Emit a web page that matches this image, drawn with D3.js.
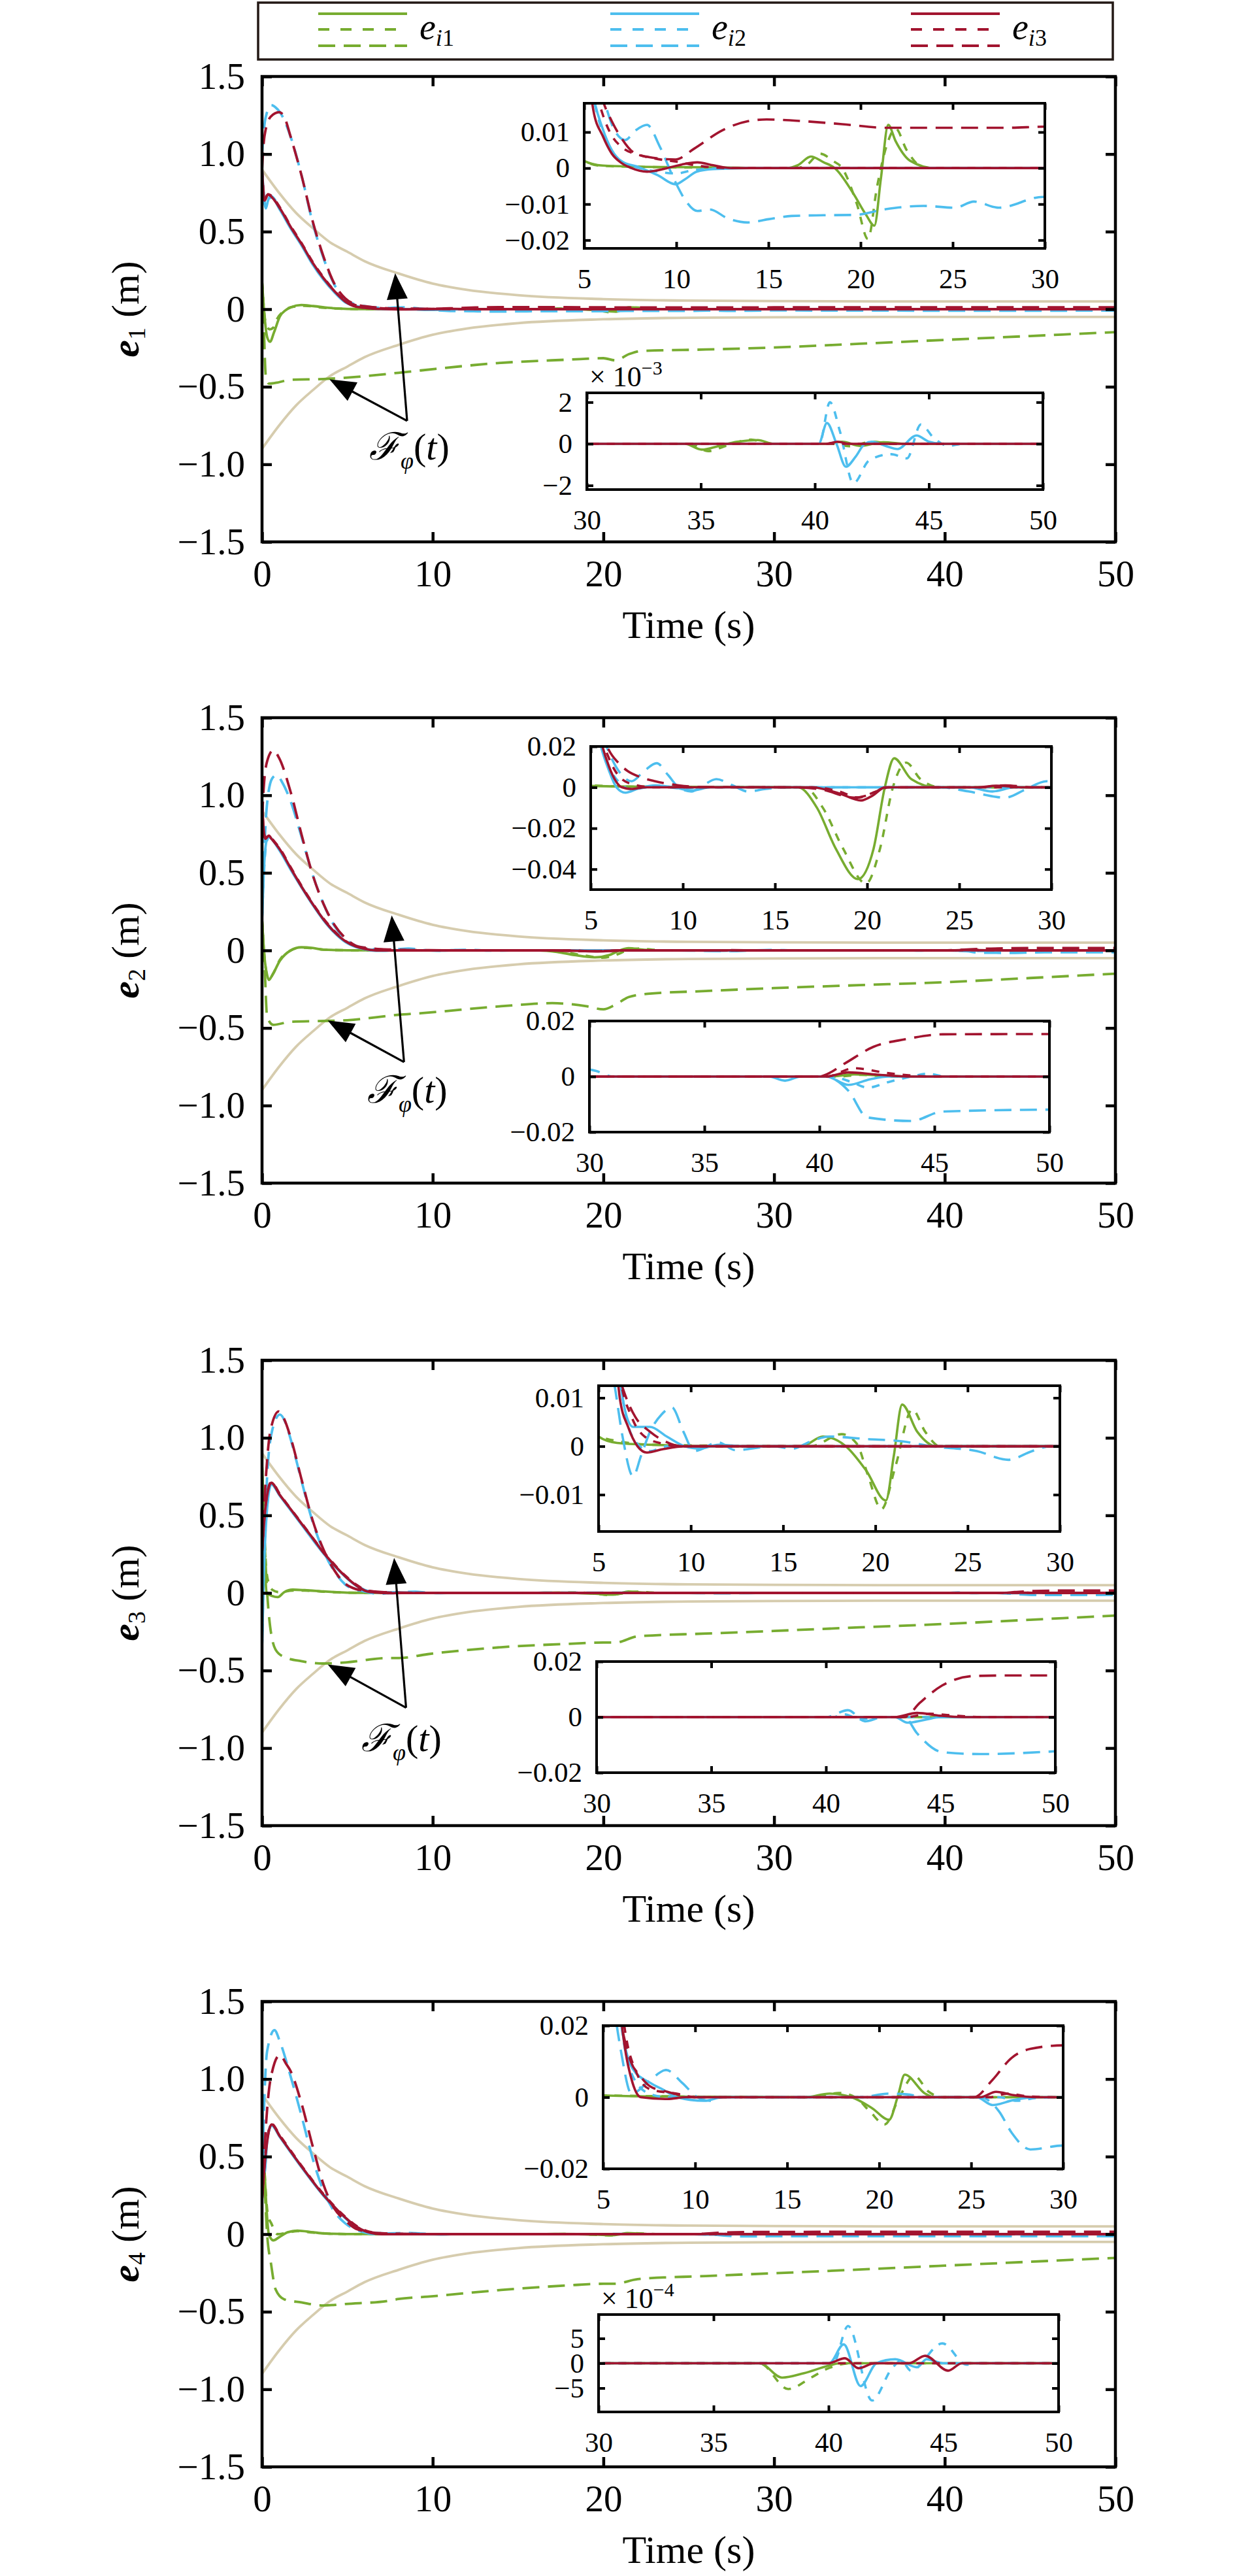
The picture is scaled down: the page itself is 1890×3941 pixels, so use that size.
<!DOCTYPE html>
<html>
<head>
<meta charset="utf-8">
<script src="https://cdn.jsdelivr.net/npm/d3@7"></script>
<style>
  body { margin: 0; background: #fff; }
  text { font-family: "Liberation Serif", "Times New Roman", Times, serif; }
</style>
</head>
<body>
<div id="chart"></div>
<script>
// ---------- data: [time (s), error (m)] ----------

// prescribed performance envelope, same in all four panels
const envUpper = [[0, 0.9], [1, 0.75], [2, 0.62], [3, 0.52], [4, 0.43], [5, 0.37], [6, 0.31], [8, 0.23], [10, 0.165], [12, 0.125], [15, 0.09], [20, 0.065], [25, 0.055], [30, 0.052], [40, 0.05], [50, 0.05]]
const envLower = [[0, -0.9], [1, -0.75], [2, -0.62], [3, -0.52], [4, -0.43], [5, -0.37], [6, -0.31], [8, -0.23], [10, -0.165], [12, -0.125], [15, -0.09], [20, -0.065], [25, -0.055], [30, -0.052], [40, -0.05], [50, -0.05]]

// e1  (g = e_i1, b = e_i2, r = e_i3 ; S solid, D dotted, L dashed)
const p1gS = [[0, 0.18], [0.15, -0.05], [0.3, -0.18], [0.47, -0.21], [0.7, -0.15], [1.05, -0.046], [1.4, -0.005], [1.68, 0.012], [2.3, 0.027], [3, 0.02], [4.2, 0.006], [5, 0.002], [6, 0.0007], [8, 0.0004], [12, 0.0002], [16, 0], [16.6, 0.0008], [17.3, 0.0032], [18, 0.0016], [18.6, 0], [19.6, -0.007], [20.3, -0.013], [20.75, -0.016], [21.1, -0.003], [21.5, 0.012], [21.9, 0.0075], [22.7, 0.002], [24, 0], [34.3, 0], [35.04, -0.00028], [35.8, -0.0001], [36.6, 0.0001], [37.5, 0.00018], [38.2, 0], [40.5, 0], [41.2, 0.0001], [42, -0.0001], [43, 0.00008], [44, 0], [50, 0]]
const p1gD = [[0, 0.18], [0.2, -0.08], [0.45, -0.13], [0.65, -0.12], [0.9, -0.06], [1.3, -0.01], [1.8, 0.015], [2.5, 0.022], [3.5, 0.01], [5, 0.002], [6, 0.0006], [10, 0.0002], [16.5, 0], [17.1, 0.001], [17.8, 0.004], [18.5, 0.002], [19, 0], [19.8, -0.01], [20.4, -0.0197], [20.9, -0.005], [21.4, 0.006], [21.9, 0.011], [22.5, 0.005], [23.5, 0], [34.5, 0], [35.32, -0.00035], [36.1, -0.0001], [37.2, 0.0002], [38, 0], [40.8, 0], [41.5, -0.00012], [42.5, 0.0001], [43.5, 0], [50, 0]]
const p1gL = [[0, 0.18], [0.1, -0.1], [0.22, -0.43], [0.4, -0.48], [0.8, -0.475], [1.7, -0.455], [3.6, -0.45], [6.2, -0.43], [8, -0.41], [9.3, -0.395], [14, -0.346], [18, -0.325], [20, -0.316], [20.7, -0.33], [21.5, -0.29], [22.2, -0.27], [26, -0.26], [30, -0.247], [35, -0.223], [40, -0.198], [45, -0.173], [50, -0.148]]
const p1bS = [[0, 0.9], [0.1, 0.75], [0.22, 0.65], [0.35, 0.7], [0.5, 0.73], [1.05, 0.64], [1.68, 0.52], [2.32, 0.41], [2.96, 0.29], [3.6, 0.19], [4.23, 0.11], [4.87, 0.045], [5.5, 0.02], [6, 0.011], [6.5, 0.005], [7, 0.002], [8, 0.0002], [9, -0.002], [9.95, -0.0045], [10.5, -0.003], [11.1, -0.001], [12, -0.0003], [14, 0], [40.17, 0], [40.53, 0.001], [40.95, 0], [41.36, -0.0011], [41.8, -0.0006], [42.19, 0], [42.5, 0.0001], [43.1, -0.0001], [43.63, -0.00025], [44.46, 0.0004], [45, 0.0001], [45.57, 0], [50, 0]]
const p1bD = [[0, 0.9], [0.1, 0.72], [0.22, 0.66], [0.4, 0.71], [0.6, 0.72], [1.05, 0.645], [1.68, 0.525], [2.32, 0.415], [2.96, 0.295], [3.6, 0.195], [4.23, 0.115], [4.87, 0.048], [5.5, 0.02], [6, 0.01], [7, 0.002], [8, 0], [9, -0.001], [10, -0.0015], [11, -0.0005], [13, 0], [40.2, 0], [40.66, 0.002], [41.1, 0.0006], [41.69, -0.0019], [42.38, -0.0008], [43.35, -0.0005], [44.04, -0.0007], [44.65, 0.00093], [45.2, 0.0003], [45.85, -0.0001], [46.5, 0], [50, 0]]
const p1bL = [[0, 1.0], [0.08, 1.12], [0.2, 1.23], [0.54, 1.315], [0.8, 1.3], [1.05, 1.27], [1.68, 1.11], [2.32, 0.86], [2.96, 0.56], [3.6, 0.33], [4.23, 0.16], [4.87, 0.065], [5.5, 0.03], [6.02, 0.02], [6.6, 0.011], [7.22, 0.0078], [7.8, 0.0105], [8.41, 0.012], [9.1, 0.006], [9.95, -0.0039], [10.5, -0.009], [11.14, -0.0119], [11.82, -0.0115], [12.8, -0.014], [13.87, -0.0151], [15, -0.0142], [16.25, -0.0133], [18, -0.0131], [19.67, -0.013], [21.37, -0.0114], [23.42, -0.0105], [25.12, -0.011], [26.15, -0.0093], [27.5, -0.011], [29.9, -0.008], [35, -0.009], [40, -0.0095], [45, -0.0095], [50, -0.009]]
const p1rS = [[0, 0.9], [0.15, 0.7], [0.35, 0.74], [0.5, 0.73], [1.05, 0.65], [1.68, 0.53], [2.32, 0.42], [2.96, 0.3], [3.6, 0.2], [4.23, 0.118], [4.87, 0.05], [5.5, 0.016], [6, 0.009], [6.5, 0.004], [7, 0.0015], [7.56, 0], [8.41, -0.001], [9.5, 0], [10.3, 0.001], [11.14, 0.0016], [12, 0.0008], [13, 0], [40.5, 0], [41, 0.0001], [41.5, 0], [50, 0]]
const p1rD = [[0, 0.9], [0.15, 0.71], [0.35, 0.74], [0.5, 0.735], [1.05, 0.655], [1.68, 0.535], [2.32, 0.425], [2.96, 0.305], [3.6, 0.205], [4.23, 0.12], [4.87, 0.055], [5.5, 0.025], [6, 0.015], [6.5, 0.009], [7, 0.006], [8.07, 0.0035], [9, 0.0025], [10, 0.0018], [11, 0.0008], [12, 0.0002], [13, 0], [50, 0]]
const p1rL = [[0, 0.9], [0.05, 1.0], [0.15, 1.12], [0.5, 1.24], [1.0, 1.27], [1.3, 1.24], [1.68, 1.11], [2.32, 0.86], [2.96, 0.57], [3.6, 0.34], [4.23, 0.166], [4.87, 0.07], [5.5, 0.03], [6, 0.019], [6.5, 0.013], [7, 0.0085], [7.73, 0.0042], [8.7, 0.0029], [9.95, 0.0024], [11, 0.0055], [12.5, 0.0105], [13.87, 0.013], [14.9, 0.0135], [17, 0.013], [19, 0.0122], [21.4, 0.0112], [25, 0.0112], [28, 0.0112], [30, 0.0115], [40, 0.0115], [50, 0.0115]]

// e2
const p2gS = [[0, 0.2], [0.15, -0.05], [0.3, -0.16], [0.4, -0.19], [0.6, -0.16], [1.05, -0.066], [1.68, 0], [2.3, 0.02], [3, 0.015], [3.6, 0.005], [5, 0.0007], [8, 0.0003], [16.25, 0], [17.28, -0.01], [18.3, -0.03], [19.5, -0.0449], [20.35, -0.03], [20.96, 0], [21.47, 0.0142], [22.4, 0.004], [23.76, 0], [40.5, 0], [41.5, 0.0008], [42.5, 0.0005], [44, 0], [50, 0]]
const p2gD = [[0, 0.2], [0.15, -0.05], [0.3, -0.16], [0.45, -0.18], [0.65, -0.15], [1.05, -0.06], [1.68, 0], [2.3, 0.018], [3, 0.013], [3.6, 0.005], [5, 0.001], [8, 0.0003], [16.6, 0], [17.6, -0.01], [18.7, -0.03], [19.94, -0.047], [20.7, -0.03], [21.4, 0], [22.12, 0.0121], [22.9, 0.004], [24, 0], [40.8, 0], [41.8, 0.0006], [43, 0], [50, 0]]
const p2gL = [[0, 0.2], [0.15, -0.1], [0.3, -0.43], [0.66, -0.48], [1.68, -0.46], [3.6, -0.455], [5, -0.45], [8, -0.415], [9.3, -0.405], [14, -0.36], [17, -0.34], [19, -0.36], [20, -0.38], [20.7, -0.35], [21.5, -0.3], [22.6, -0.28], [26, -0.262], [30, -0.243], [35, -0.224], [40, -0.205], [45, -0.178], [50, -0.15]]
const p2bS = [[0, 0.2], [0.1, 0.5], [0.25, 0.7], [0.4, 0.735], [0.55, 0.72], [1.05, 0.64], [1.68, 0.52], [2.32, 0.405], [2.96, 0.295], [3.6, 0.195], [4.23, 0.115], [4.87, 0.055], [5.5, 0.022], [6, 0.008], [6.4, 0], [6.88, -0.0026], [7.6, -0.0005], [8.5, 0.001], [9.5, 0], [10.5, -0.0015], [11.5, 0], [25.5, 0], [26.8, -0.002], [28, 0], [37.8, 0], [38.5, -0.0015], [39.2, 0], [40.3, 0], [41.26, -0.003], [42.2, -0.001], [43, 0], [50, 0]]
const p2bD = [[0, 0.2], [0.1, 0.48], [0.25, 0.69], [0.4, 0.73], [0.55, 0.72], [1.05, 0.645], [1.68, 0.525], [2.32, 0.41], [2.96, 0.3], [3.6, 0.2], [4.23, 0.12], [4.87, 0.058], [5.5, 0.024], [6, 0.01], [6.6, 0.002], [7.2, -0.001], [8.5, 0.0005], [10, -0.0005], [11, 0], [40.5, 0], [41.4, -0.002], [42.1, -0.004], [43, -0.002], [44, 0], [44.7, 0.001], [45.5, 0], [50, 0]]
const p2bL = [[0, 0.2], [0.1, 0.55], [0.3, 0.95], [0.6, 1.11], [0.85, 1.13], [1.2, 1.08], [1.68, 0.96], [2.32, 0.73], [2.96, 0.49], [3.6, 0.3], [4.23, 0.16], [4.87, 0.075], [5.5, 0.03], [6, 0.017], [6.6, 0.007], [7.22, 0.003], [7.9, 0.008], [8.58, 0.0118], [9.2, 0.006], [9.77, 0], [10.46, -0.002], [11.1, 0.001], [11.82, 0.004], [12.7, 0.001], [13.53, -0.002], [14.5, -0.0008], [15.57, 0], [24, 0], [25.5, -0.002], [27.5, -0.005], [28.6, -0.001], [29.73, 0.003], [30.3, 0.002], [31, 0], [40.25, 0], [41.26, -0.0051], [42.08, -0.0147], [43.99, -0.016], [45.36, -0.0126], [50, -0.0119]]
const p2rS = [[0, 0.98], [0.08, 0.8], [0.2, 0.72], [0.4, 0.74], [0.55, 0.72], [1.05, 0.65], [1.68, 0.53], [2.32, 0.41], [2.96, 0.3], [3.6, 0.2], [4.23, 0.12], [4.87, 0.06], [5.5, 0.025], [6, 0.01], [6.7, 0], [7.2, -0.0008], [8, 0], [17, 0], [18.5, -0.003], [19.67, -0.0064], [20.3, -0.004], [21, 0], [26, 0], [27, 0.0008], [28.5, 0], [40.3, 0], [41.26, 0.0015], [42.5, 0.0007], [44, 0], [50, 0]]
const p2rD = [[0, 0.95], [0.08, 0.8], [0.2, 0.72], [0.4, 0.745], [0.55, 0.725], [1.05, 0.655], [1.68, 0.535], [2.32, 0.415], [2.96, 0.305], [3.6, 0.205], [4.23, 0.125], [4.87, 0.062], [5.5, 0.028], [6, 0.014], [6.7, 0.004], [7.5, 0.001], [8.5, 0], [17, 0], [18.5, -0.002], [19.5, -0.005], [20.5, -0.002], [21.2, 0], [40.3, 0], [41.5, 0.003], [43, 0.0012], [45, 0], [50, 0]]
const p2rL = [[0, 0.85], [0.1, 1.05], [0.3, 1.22], [0.66, 1.29], [1.0, 1.24], [1.68, 1.02], [2.32, 0.745], [2.96, 0.49], [3.6, 0.3], [4.23, 0.166], [4.87, 0.08], [5.5, 0.03], [6, 0.018], [6.5, 0.012], [7, 0.008], [7.73, 0.0049], [8.5, 0.003], [9.77, 0.001], [11, 0.0002], [16, 0], [17.5, -0.001], [19.3, -0.005], [20.3, -0.003], [21, 0], [26, 0], [27.5, 0.001], [29, 0], [40, 0], [40.16, 0.0003], [41.12, 0.0048], [42.35, 0.0107], [43.72, 0.0134], [45.36, 0.0152], [50, 0.0153]]

// e3
const p3gS = [[0, 0.83], [0.1, 0.45], [0.2, 0.1], [0.28, 0], [0.6, -0.02], [0.92, -0.027], [1.3, 0.005], [1.8, 0.021], [2.5, 0.018], [3.6, 0.01], [5, 0.002], [6, 0.0007], [8, 0.0003], [12, 0], [16, 0], [17.16, 0.002], [18.4, 0], [19.5, -0.005], [20.57, -0.0112], [21, -0.002], [21.45, 0.0086], [22.27, 0.003], [23.3, 0], [50, 0]]
const p3gD = [[0, 0.83], [0.1, 0.5], [0.25, 0.15], [0.4, 0.06], [0.6, 0.02], [1, 0.005], [1.8, 0.015], [2.5, 0.015], [3.6, 0.008], [5, 0.002], [8, 0.0003], [16.5, 0], [18.18, 0.0025], [19, 0.0005], [19.6, -0.006], [20.33, -0.013], [21.1, -0.004], [22, 0.0076], [22.7, 0.003], [23.5, 0], [50, 0]]
const p3gL = [[0, 0.83], [0.15, 0.34], [0.4, -0.14], [0.79, -0.365], [1.3, -0.413], [2.3, -0.44], [3.6, -0.455], [4.9, -0.448], [7.4, -0.42], [8, -0.42], [9.7, -0.395], [14, -0.35], [18, -0.328], [20, -0.32], [20.7, -0.32], [22, -0.28], [26, -0.262], [30, -0.245], [35, -0.222], [40, -0.2], [45, -0.173], [50, -0.146]]
const p3bS = [[0, -0.35], [0.1, 0.1], [0.3, 0.55], [0.54, 0.7], [1.05, 0.625], [2.32, 0.44], [3.6, 0.255], [4.87, 0.105], [5.5, 0.048], [6, 0.02], [6.4, 0.008], [6.87, 0.004], [7.79, 0.004], [8.7, 0.002], [9.67, 0], [10.5, -0.0005], [11.5, 0.0003], [13, 0], [43, 0], [43.56, -0.002], [44.3, -0.001], [45, 0], [50, 0]]
const p3bD = [[0, -0.35], [0.1, 0.12], [0.3, 0.56], [0.54, 0.705], [1.05, 0.63], [2.32, 0.443], [3.6, 0.258], [4.87, 0.107], [5.5, 0.05], [6, 0.02], [6.5, 0.006], [7, 0.001], [7.8, -0.001], [8.7, 0], [40.3, 0], [40.8, 0.001], [41.5, -0.0008], [42.3, 0], [50, 0]]
const p3bL = [[0, -0.35], [0.1, 0.2], [0.3, 0.75], [0.6, 1.05], [1.05, 1.15], [1.4, 1.09], [1.68, 0.99], [2.32, 0.72], [2.96, 0.46], [3.6, 0.27], [4.23, 0.14], [4.87, 0.055], [5.5, 0.02], [5.85, 0.013], [6.3, 0.002], [6.87, -0.0062], [7.3, -0.002], [7.79, 0.003], [8.4, 0.0065], [8.98, 0.008], [9.6, 0.003], [10.18, -0.001], [11.5, 0.0008], [12.4, -0.0008], [14.5, 0], [15.5, -0.0005], [16.5, 0.001], [17.5, 0.002], [19.5, 0.0015], [21.5, 0.001], [23, 0], [25.5, -0.001], [27.2, -0.0028], [28.5, -0.001], [29.5, 0], [40, 0], [40.96, 0.0025], [41.7, -0.0015], [42.5, 0], [43.42, 0], [43.97, -0.0058], [45.07, -0.0126], [46.71, -0.0133], [50, -0.0123]]
const p3rS = [[0, 0.26], [0.2, 0.55], [0.54, 0.71], [1.05, 0.63], [1.68, 0.54], [2.32, 0.446], [2.96, 0.355], [3.6, 0.26], [4.23, 0.18], [4.87, 0.108], [5.5, 0.05], [6.15, 0.01], [6.6, 0.004], [7.11, 0], [7.62, -0.0013], [8.5, -0.0006], [9.67, 0], [43, 0], [43.97, 0.0015], [45, 0.0005], [46, 0], [50, 0]]
const p3rD = [[0, 0.26], [0.2, 0.56], [0.54, 0.715], [1.05, 0.635], [2.32, 0.45], [3.6, 0.265], [4.87, 0.112], [5.5, 0.055], [6.15, 0.015], [6.8, 0.006], [7.5, 0.002], [8.5, 0.0005], [9.5, 0], [43.5, 0], [44.5, 0.0012], [45.5, 0.0006], [47, 0], [50, 0]]
const p3rL = [[0, 0.26], [0.2, 0.7], [0.5, 1.05], [0.98, 1.17], [1.3, 1.12], [1.68, 1.0], [2.32, 0.73], [2.96, 0.47], [3.6, 0.28], [4.23, 0.147], [4.87, 0.06], [5.5, 0.025], [6, 0.016], [6.5, 0.01], [7, 0.006], [7.79, 0.003], [8.5, 0.0012], [9.5, 0], [43.42, 0], [44.1, 0.0052], [45.07, 0.0114], [46.44, 0.0148], [48, 0.015], [50, 0.015]]

// e4
const p4gS = [[0, 0.8], [0.15, 0.4], [0.4, 0], [0.66, -0.04], [1.0, -0.02], [1.5, 0.012], [2.07, 0.023], [3, 0.012], [3.6, 0.005], [5, 0.0005], [8, 0.0002], [16, 0], [17.3, 0.001], [18.5, 0], [19.6, -0.003], [20.54, -0.0063], [21, 0], [21.39, 0.0063], [22.5, 0.001], [23, 0], [37, 0], [37.98, -0.00029], [38.93, -0.0002], [40, -0.00005], [40.5, 0], [50, 0]]
const p4gD = [[0, 0.8], [0.15, 0.4], [0.35, 0.12], [0.54, 0.07], [0.9, 0], [1.5, 0.01], [2.07, 0.02], [3, 0.01], [5, 0.0005], [16.5, 0], [17.8, 0.0012], [18.7, 0], [19.5, -0.004], [20.3, -0.0076], [21.1, 0], [21.9, 0.006], [22.7, 0.0015], [23.5, 0], [37, 0], [38.25, -0.00052], [39.2, -0.0003], [40, -0.0001], [41, 0], [50, 0]]
const p4gL = [[0, 0.8], [0.28, 0.03], [0.54, -0.2], [0.79, -0.355], [1.3, -0.42], [2.3, -0.44], [3.6, -0.46], [4.9, -0.45], [7.4, -0.43], [8, -0.418], [9.7, -0.403], [14, -0.36], [18, -0.33], [20, -0.32], [20.7, -0.32], [22, -0.29], [26, -0.27], [30, -0.252], [35, -0.228], [40, -0.203], [45, -0.178], [50, -0.153]]
const p4bS = [[0, 0.9], [0.08, 0.6], [0.15, 0.4], [0.3, 0.6], [0.56, 0.7], [1.05, 0.625], [2.32, 0.43], [3.6, 0.248], [4.87, 0.104], [5.5, 0.047], [6, 0.02], [6.6, 0.008], [7.56, 0.004], [8.3, 0.002], [9, 0], [10.5, -0.001], [11.5, 0], [25.3, 0], [26.17, -0.0022], [27.3, -0.0008], [28.5, 0], [40.03, 0], [40.66, 0.00038], [41.39, -0.00046], [42.08, 0], [42.9, 0.00008], [43.85, -0.00008], [44.26, 0.00008], [45, 0], [50, 0]]
const p4bD = [[0, 0.9], [0.08, 0.62], [0.15, 0.42], [0.3, 0.61], [0.56, 0.705], [1.05, 0.63], [2.32, 0.435], [3.6, 0.252], [4.87, 0.107], [5.5, 0.05], [6, 0.02], [6.6, 0.006], [7.5, 0.001], [8.5, 0], [26.5, 0], [27.5, -0.001], [28.5, -0.0002], [29.5, 0], [40.2, 0], [40.85, 0.00075], [41.89, -0.00075], [42.76, -0.0001], [43.17, 0.00005], [43.58, -0.00015], [44.95, 0.0004], [46, -0.00003], [46.5, 0], [50, 0]]
const p4bL = [[0, 0.3], [0.1, 0.75], [0.3, 1.18], [0.73, 1.315], [1.05, 1.24], [1.68, 1.015], [2.32, 0.76], [2.96, 0.49], [3.6, 0.28], [4.23, 0.147], [4.87, 0.07], [5.5, 0.03], [6, 0.012], [6.54, 0.001], [7.5, 0.0045], [8.42, 0.0076], [9.3, 0.004], [10.12, 0], [10.8, -0.001], [11.5, 0], [19, 0], [20.5, 0.001], [21.5, 0.0008], [22.5, 0], [25.49, 0], [26.52, -0.004], [27.2, -0.0099], [28.22, -0.0146], [30, -0.0135], [40, -0.0135], [50, -0.0135]]
const p4rS = [[0, 0.22], [0.2, 0.5], [0.56, 0.707], [1.05, 0.63], [2.32, 0.436], [3.6, 0.253], [4.87, 0.108], [5.5, 0.05], [6.15, 0.015], [6.6, 0.004], [7.05, 0], [8.5, -0.0005], [9.5, 0], [25.5, 0], [26.35, 0.0015], [27.3, 0.0006], [28.5, 0], [40, 0], [40.71, 0.0001], [41.3, -0.0001], [42, 0], [43.5, 0], [44.2, 0.00015], [45.2, -0.00015], [45.8, 0], [50, 0]]
const p4rD = [[0, 0.22], [0.2, 0.52], [0.56, 0.71], [1.05, 0.635], [2.32, 0.44], [3.6, 0.258], [4.87, 0.112], [5.5, 0.055], [6.15, 0.02], [6.8, 0.007], [7.56, 0.0022], [9, 0.001], [10, 0], [26, 0], [27, 0.001], [28, 0.0003], [29.5, 0], [50, 0]]
const p4rL = [[0, 0.22], [0.2, 0.65], [0.5, 1.0], [1.05, 1.155], [1.4, 1.1], [1.68, 1.05], [2.32, 0.84], [2.96, 0.57], [3.6, 0.32], [4.23, 0.166], [4.87, 0.089], [5.5, 0.035], [6, 0.02], [6.5, 0.01], [7, 0.006], [7.56, 0.003], [8.5, 0.0015], [10, 0], [25.15, 0], [26.17, 0.0049], [27.2, 0.011], [28.22, 0.0135], [30, 0.0145], [35, 0.0147], [50, 0.0147]]

// ticks and labels
const mainXTicks = [0, 10, 20, 30, 40, 50]
const mainYTicks = [-1.5, -1, -0.5, 0, 0.5, 1, 1.5]
const mainYLabels = ['−1.5', '−1.0', '−0.5', '0', '0.5', '1.0', '1.5']
const insetAXTicks = [5, 10, 15, 20, 25, 30]
const insetBXTicks = [30, 35, 40, 45, 50]
const insetAYDomains = [[-0.0223, 0.018], [-0.05, 0.02], [-0.0176, 0.0125], [-0.02, 0.02]]
const insetAYTicks = [[-0.02, -0.01, 0, 0.01], [-0.04, -0.02, 0, 0.02], [-0.01, 0, 0.01], [-0.02, 0, 0.02]]
const insetAYLabels = [['−0.02', '−0.01', '0', '0.01'], ['−0.04', '−0.02', '0', '0.02'], ['−0.01', '0', '0.01'], ['−0.02', '0', '0.02']]
const insetBYDomains = [[-0.0022, 0.00245], [-0.02, 0.02], [-0.02, 0.02], [-0.00098, 0.00098]]
const insetBYTicks = [[-0.002, 0, 0.002], [-0.02, 0, 0.02], [-0.02, 0, 0.02], [-0.0005, 0, 0.0005]]
const insetBYLabels = [['−2', '0', '2'], ['−0.02', '0', '0.02'], ['−0.02', '0', '0.02'], ['−5', '0', '5']]
const insetBExponent = ['−3', null, null, '−4']

// F_phi(t) annotation, data units (panels 1-3)
const arrowJoints = [[8.5, -0.72], [8.32, -0.72], [8.44, -0.74]]
const arrowTipsUpper = [[7.8, 0.232], [7.6, 0.225], [7.74, 0.225]]
const arrowTipsLower = [[3.95, -0.452], [3.85, -0.452], [3.85, -0.461]]
const fLabelAt = [[6.28, -0.97], [6.16, -0.98], [5.82, -1.02]]

const seriesColors = ['#77ac30', '#4dbeee', '#a2142f']
const envColor = '#d6ccae'
const dotted = '12,12'
const dashed = '26,13'

// ---------- layout ----------
const W = 1890
const H = 3941
const mainLeft = 401
const mainWidth = 1306
const mainHeight = 712
const panelTops = [117, 1098, 2081, 3062]
// [x0, y0, x1, y1] in page pixels
const insetBoxA = [[894, 158, 1599, 380], [904, 1142, 1609, 1361], [916, 2120, 1622, 2343], [923, 3099, 1627, 3318]]
const insetBoxB = [[898, 601, 1596, 749], [902, 1562, 1606, 1732], [913, 2542, 1615, 2712], [916, 3541, 1620, 3690]]

const panelSeries = [
  [p1gS, p1gD, p1gL, p1bS, p1bD, p1bL, p1rS, p1rD, p1rL],
  [p2gS, p2gD, p2gL, p2bS, p2bD, p2bL, p2rS, p2rD, p2rL],
  [p3gS, p3gD, p3gL, p3bS, p3bD, p3bL, p3rS, p3rD, p3rL],
  [p4gS, p4gD, p4gL, p4bS, p4bD, p4bL, p4rS, p4rD, p4rL]
]
const styleDash = [null, dotted, dashed]

const svg = d3.select('#chart').append('svg')
  .attr('width', W)
  .attr('height', H)
  .attr('viewBox', `0 0 ${W} ${H}`)
svg.append('rect').attr('width', W).attr('height', H).attr('fill', '#fff')

// ---------- legend ----------
const legend = svg.append('g')
legend.append('rect')
  .attr('x', 395).attr('y', 4).attr('width', 1308).attr('height', 87)
  .attr('fill', '#fff').attr('stroke', '#231815').attr('stroke-width', 3.5)
const legendX = [487, 934, 1394]
const legendRows = [21, 45, 70]
legendX.forEach((x0, c) => {
  legendRows.forEach((yy, s) => {
    legend.append('line')
      .attr('x1', x0).attr('x2', x0 + 136).attr('y1', yy).attr('y2', yy)
      .attr('stroke', seriesColors[c]).attr('stroke-width', 4)
      .attr('stroke-dasharray', styleDash[s] === dotted ? '17,17' : styleDash[s])
  })
  const t = legend.append('text').attr('x', x0 + 155).attr('y', 60).style('font-size', '56px')
  t.append('tspan').text('e').style('font-style', 'italic')
  t.append('tspan').text('i').style('font-style', 'italic').style('font-size', '36px').attr('dy', 10)
  t.append('tspan').text(String(c + 1)).style('font-size', '36px')
})

// ---------- helpers ----------
function frame (g, x, y, xTicks, xLabels, yTicks, yLabels, o) {
  const [x0, x1] = x.range()
  const [y1, y0] = y.range()
  const axes = [
    [d3.axisBottom(x).tickValues(xTicks).tickFormat((d, i) => xLabels[i]).tickPadding(o.xPad), `translate(0,${y1})`],
    [d3.axisTop(x).tickValues(xTicks).tickFormat(''), `translate(0,${y0})`],
    [d3.axisLeft(y).tickValues(yTicks).tickFormat((d, i) => yLabels[i]).tickPadding(o.yPad), `translate(${x0},0)`],
    [d3.axisRight(y).tickValues(yTicks).tickFormat(''), `translate(${x1},0)`]
  ]
  axes.forEach(([ax, tr]) => {
    const a = g.append('g').attr('transform', tr)
      .call(ax.tickSizeInner(-o.tick).tickSizeOuter(0))
      .attr('font-size', null).attr('font-family', null)
    a.select('.domain').remove()
    a.selectAll('line').attr('stroke', '#000').attr('stroke-width', o.sw)
    a.selectAll('text').style('font-size', o.font + 'px').attr('fill', '#000')
    // unlabeled sides carry no text nodes
    a.selectAll('text').filter(function () { return this.textContent === '' }).remove()
  })
  g.append('rect')
    .attr('x', x0).attr('y', y0).attr('width', x1 - x0).attr('height', y1 - y0)
    .attr('fill', 'none').attr('stroke', '#000').attr('stroke-width', o.sw)
}

function drawCurves (g, x, y, series, clipId, width) {
  const line = d3.line().x(d => x(d[0])).y(d => y(d[1])).curve(d3.curveMonotoneX)
  const cg = g.append('g').attr('clip-path', `url(#${clipId})`)
  series.forEach((pts, i) => {
    const [lo, hi] = x.domain()
    // keep a point either side of the window so the line runs to the frame
    const a = Math.max(0, d3.bisector(d => d[0]).left(pts, lo) - 1)
    const b = Math.min(pts.length, d3.bisector(d => d[0]).right(pts, hi) + 1)
    cg.append('path')
      .attr('d', line(pts.slice(a, b)))
      .attr('fill', 'none')
      .attr('stroke', seriesColors[Math.floor(i / 3)])
      .attr('stroke-width', width)
      .attr('stroke-linejoin', 'round')
      .attr('stroke-dasharray', styleDash[i % 3])
  })
  return cg
}

function clip (id, x0, y0, w, h) {
  svg.append('clipPath').attr('id', id)
    .append('rect').attr('x', x0).attr('y', y0).attr('width', w).attr('height', h)
}

function arrow (g, from, to) {
  const len = 40
  const half = 16
  const dx = to[0] - from[0]
  const dy = to[1] - from[1]
  const d = Math.hypot(dx, dy)
  const ux = dx / d
  const uy = dy / d
  const bx = to[0] - ux * len
  const by = to[1] - uy * len
  g.append('line')
    .attr('x1', from[0]).attr('y1', from[1]).attr('x2', bx + ux * 4).attr('y2', by + uy * 4)
    .attr('stroke', '#000').attr('stroke-width', 3.2)
  g.append('path')
    .attr('d', `M${to[0]},${to[1]}L${bx - uy * half},${by + ux * half}L${bx + uy * half},${by - ux * half}Z`)
    .attr('fill', '#000')
}

// ---------- panels ----------
panelTops.forEach((top, k) => {
  const g = svg.append('g')
  const x = d3.scaleLinear().domain([0, 50]).range([mainLeft, mainLeft + mainWidth])
  const y = d3.scaleLinear().domain([-1.5, 1.5]).range([top + mainHeight, top])
  const clipId = `main${k}`
  clip(clipId, mainLeft, top, mainWidth, mainHeight)

  const env = d3.line().x(d => x(d[0])).y(d => y(d[1])).curve(d3.curveMonotoneX)
  const eg = g.append('g').attr('clip-path', `url(#${clipId})`)
  ;[envUpper, envLower].forEach(e => {
    eg.append('path').attr('d', env(e)).attr('fill', 'none')
      .attr('stroke', envColor).attr('stroke-width', 3.8)
  })
  drawCurves(g, x, y, panelSeries[k], clipId, 3.8)

  if (k < 3) {
    const j = [x(arrowJoints[k][0]), y(arrowJoints[k][1])]
    arrow(g, j, [x(arrowTipsUpper[k][0]), y(arrowTipsUpper[k][1])])
    arrow(g, j, [x(arrowTipsLower[k][0]), y(arrowTipsLower[k][1])])
    const ft = g.append('text')
      .attr('x', x(fLabelAt[k][0])).attr('y', y(fLabelAt[k][1]))
      .style('font-size', '58px')
    ft.append('tspan').text('ℱ').style('font-style', 'italic')
    ft.append('tspan').text('φ').style('font-style', 'italic').style('font-size', '36px').attr('dy', 14)
    ft.append('tspan').text('(').attr('dy', -14)
    ft.append('tspan').text('t').style('font-style', 'italic')
    ft.append('tspan').text(')')
  }

  frame(g, x, y, mainXTicks, mainXTicks.map(String), mainYTicks, mainYLabels,
    { tick: 15, sw: 4.5, font: 57, xPad: 27.5, yPad: 26 })

  // y label
  const yl = g.append('text')
    .attr('transform', `translate(212,${top + mainHeight / 2}) rotate(-90)`)
    .attr('text-anchor', 'middle')
    .style('font-size', '60px')
  yl.append('tspan').text('e').style('font-weight', 'bold').style('font-style', 'italic')
  yl.append('tspan').text(String(k + 1)).style('font-size', '38px').attr('dy', 10)
  yl.append('tspan').text(' (m)').attr('dy', -10)

  g.append('text')
    .attr('x', mainLeft + mainWidth / 2).attr('y', top + mainHeight + 147)
    .attr('text-anchor', 'middle').style('font-size', '60px')
    .text('Time (s)')

  // insets
  const insets = [
    [insetBoxA[k], [5, 30], insetAYDomains[k], insetAXTicks, insetAYTicks[k], insetAYLabels[k], null],
    [insetBoxB[k], [30, 50], insetBYDomains[k], insetBXTicks, insetBYTicks[k], insetBYLabels[k], insetBExponent[k]]
  ]
  insets.forEach(([box, xd, yd, xt, yt, yLab, expo], n) => {
    const ig = svg.append('g')
    const ix = d3.scaleLinear().domain(xd).range([box[0], box[2]])
    const iy = d3.scaleLinear().domain(yd).range([box[3], box[1]])
    const id = `inset${k}_${n}`
    clip(id, box[0], box[1], box[2] - box[0], box[3] - box[1])
    ig.append('rect').attr('x', box[0]).attr('y', box[1])
      .attr('width', box[2] - box[0]).attr('height', box[3] - box[1]).attr('fill', '#fff')
    drawCurves(ig, ix, iy, panelSeries[k], id, 3.6)
    frame(ig, ix, iy, xt, xt.map(String), yt, yLab,
      { tick: 10, sw: 4, font: 43, xPad: 30, yPad: 22 })
    if (expo) {
      const et = ig.append('text').attr('x', box[0] + 4).attr('y', box[1] - 10).style('font-size', '44px')
      et.append('tspan').text('× 10')
      et.append('tspan').text(expo).style('font-size', '30px').attr('dy', -18)
    }
  })
})
</script>
</body>
</html>
